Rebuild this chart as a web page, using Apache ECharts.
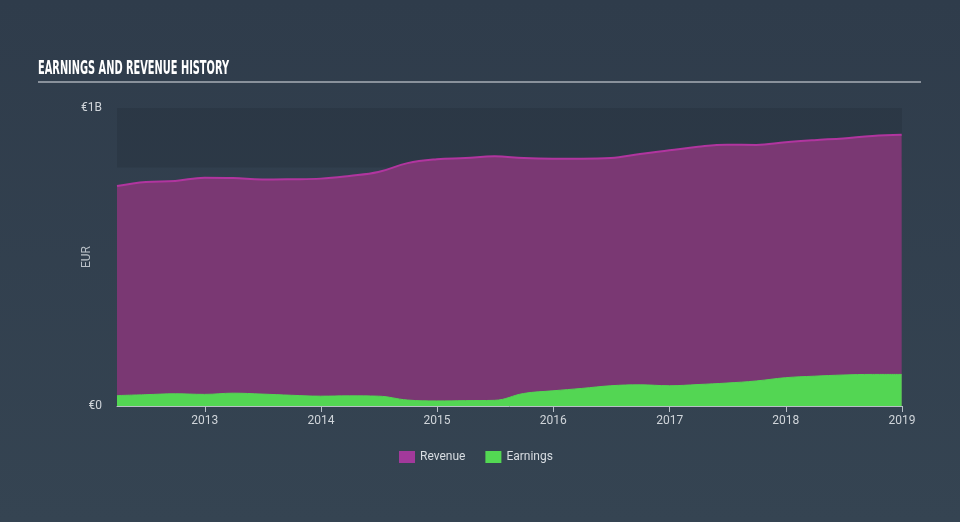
<!DOCTYPE html>
<html>
<head>
<meta charset="utf-8">
<script src="https://cdn.jsdelivr.net/npm/echarts@6/dist/echarts.min.js"></script>
<style>
html,body{margin:0;padding:0;background:#323f4e;}
#chart{width:960px;height:522px;}
</style>
</head>
<body>
<div id="chart"></div>
<script>
// ---- data ----
const dates = [
  '2012-03-31','2012-06-30','2012-09-30','2012-12-31',
  '2013-03-31','2013-06-30','2013-09-30','2013-12-31',
  '2014-03-31','2014-06-30','2014-09-30','2014-12-31',
  '2015-03-31','2015-06-30','2015-09-30','2015-12-31',
  '2016-03-31','2016-06-30','2016-09-30','2016-12-31',
  '2017-03-31','2017-06-30','2017-09-30','2017-12-31',
  '2018-03-31','2018-06-30','2018-09-30','2018-12-31'
];
// EUR billions
const revenue = [
  0.738,0.752,0.755,0.766,
  0.765,0.760,0.761,0.763,
  0.772,0.785,0.815,0.828,
  0.832,0.838,0.832,0.830,
  0.830,0.832,0.846,0.858,
  0.870,0.877,0.876,0.885,
  0.892,0.898,0.906,0.910
];
const earnings = [
  0.035,0.038,0.041,0.039,
  0.043,0.040,0.036,0.033,
  0.034,0.033,0.020,0.017,
  0.018,0.019,0.042,0.051,
  0.059,0.068,0.071,0.068,
  0.072,0.077,0.084,0.095,
  0.100,0.104,0.106,0.106
];
const tickYears = [2013,2014,2015,2016,2017,2018,2019];
const yTickLabels = ['€0','€1B'];
const bandRange = [0.8, 1.0];

const ts = (s) => Date.UTC(+s.slice(0,4), +s.slice(5,7)-1, +s.slice(8,10));
const toPairs = (vals) => dates.map((d,i) => [ts(d), vals[i] * 1e9]);
const tickValues = tickYears.map(y => Date.UTC(y,0,1));

const chart = echarts.init(document.getElementById('chart'));

const titleText = 'EARNINGS AND REVENUE HISTORY';
const titleFont = 'bold 20px "DejaVu Sans Condensed"';
const cv = document.createElement('canvas').getContext('2d');
cv.font = titleFont;
const tw = cv.measureText(titleText).width || 300;
const titleScale = 191 / tw;

chart.setOption({
  backgroundColor: new echarts.graphic.LinearGradient(0,0,0,1,[
    {offset:0,color:'#2f3c4b'},{offset:1,color:'#354452'}
  ]),
  animation: false,
  grid: {left:117, right:58, top:108, bottom:116},
  graphic: [
    {type:'text', left:38, top:59, scaleX:titleScale, originX:0,
     style:{text:titleText, font:titleFont, fill:'#ffffff'}},
    {type:'line', shape:{x1:38,y1:82,x2:921,y2:82},
     style:{stroke:'#a7aeb6', lineWidth:1.5}}
  ],
  legend: {
    data:['Revenue','Earnings'], top:446, left:394,
    icon:'rect', itemWidth:16, itemHeight:12, itemGap:20,
    textStyle:{color:'#d8dde2', fontSize:12, fontFamily:'Roboto'}
  },
  xAxis: {
    type:'value',
    min: ts('2012-03-31'),
    max: Date.UTC(2019,0,1),
    axisLine:{show:true, lineStyle:{color:'#b8bfc7', width:1}},
    axisTick:{show:true, customValues:tickValues, length:6, lineStyle:{color:'#b8bfc7'}},
    axisLabel:{customValues:tickValues, color:'#d0d5da', fontSize:12, margin:9,
      fontFamily:'Roboto', formatter:(v)=> String(new Date(v).getUTCFullYear())},
    splitLine:{show:false}
  },
  yAxis: {
    type:'value', min:0, max:1e9, interval:1e9,
    name:'EUR', nameLocation:'middle', nameGap:24, nameRotate:90,
    nameMoveOverlap:false,
    nameTextStyle:{color:'#b9c0c7', fontSize:12, fontFamily:'Roboto'},
    axisLine:{show:false}, axisTick:{show:false}, splitLine:{show:false},
    axisLabel:{color:'#d0d5da', fontSize:12, margin:15, fontFamily:'Roboto',
      formatter:(v)=> v===0 ? yTickLabels[0] : yTickLabels[1]}
  },
  series: [
    {type:'line', data:[], z:0, silent:true,
     markArea:{silent:true, itemStyle:{color:'rgba(0,0,0,0.09)'},
       data:[[{yAxis:bandRange[0]*1e9},{yAxis:bandRange[1]*1e9}]]}},
    {name:'Revenue', type:'line', z:2, smooth:0.4, showSymbol:false,
     data: toPairs(revenue),
     itemStyle:{color:'#a2399b'},
     lineStyle:{color:'#b1359f', width:2},
     areaStyle:{color:'#7a3873', opacity:1}},
    {name:'Earnings', type:'line', z:3, smooth:0.4, showSymbol:false,
     data: toPairs(earnings),
     itemStyle:{color:'#53d853'},
     lineStyle:{color:'#53d653', width:1},
     areaStyle:{color:'#53d653', opacity:1}}
  ]
});
</script>
</body>
</html>
